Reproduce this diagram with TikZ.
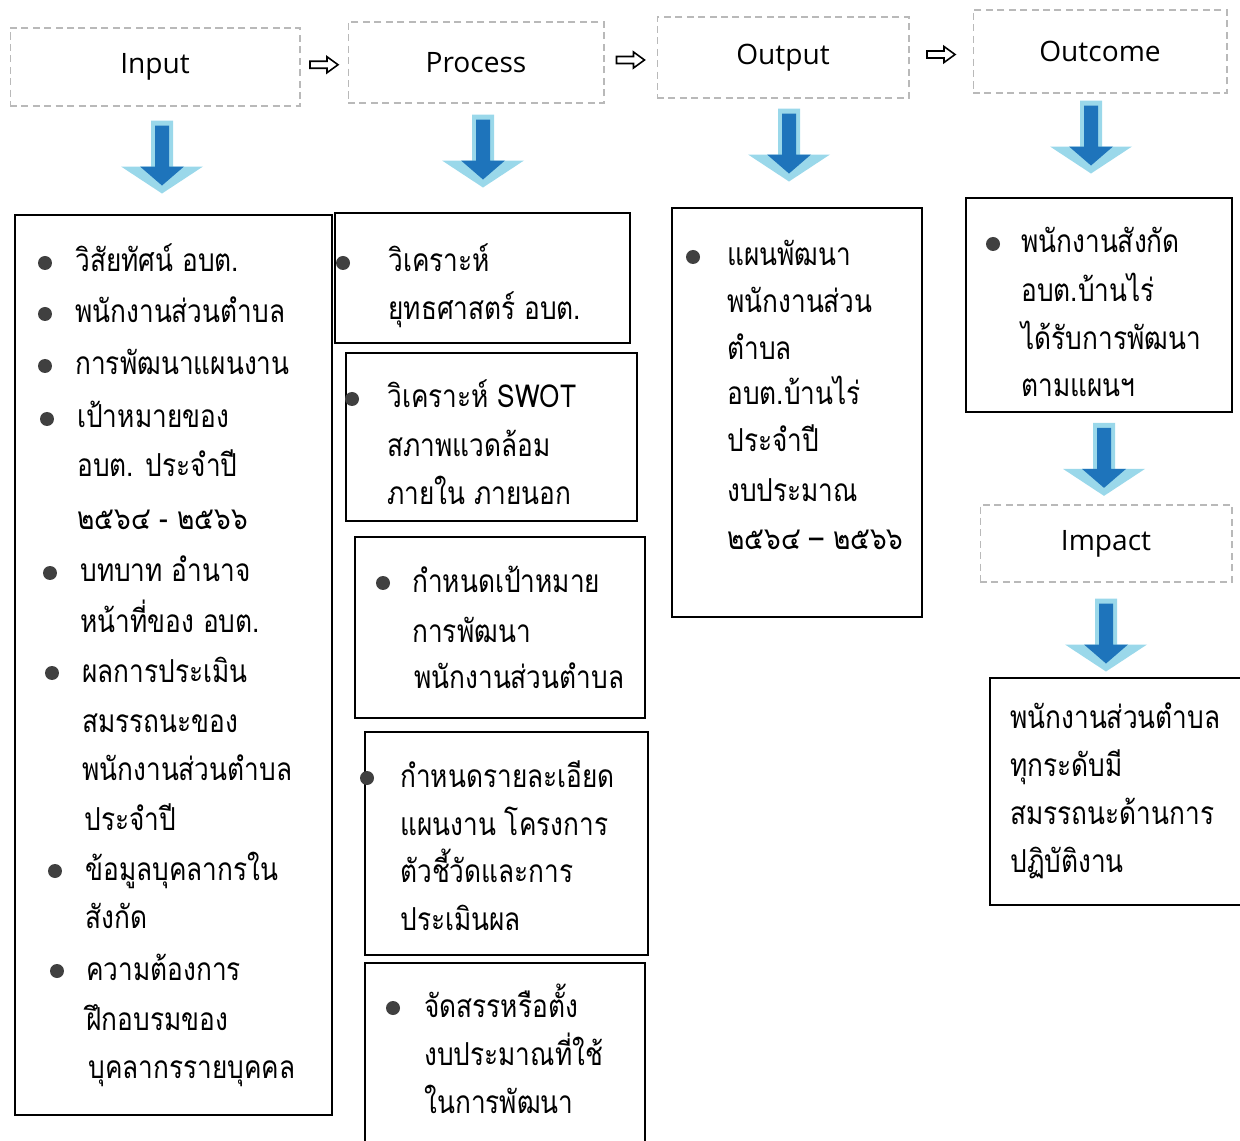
\documentclass[tikz,border=0pt]{standalone}
\usepackage{fontspec}
\newfontfamily\thaifont[Script=Thai, FakeStretch=0.83]{Loma}
\newfontfamily\headfont{Open Sans}
\usetikzlibrary{calc,fit}

\definecolor{arrowlight}{HTML}{9AD8EA}
\definecolor{arrowdark}{HTML}{1E74BB}

\tikzset{
  headbox/.style={draw=gray!55, line width=0.6pt, dash pattern=on 4pt off 2.5pt,
    font=\headfont\fontsize{16}{19}\selectfont},
  listbox/.style={draw=black, line width=1pt, inner sep=0pt},
  thaitext/.style={anchor=base west, inner sep=0pt,
    font=\thaifont\fontsize{18}{21}\selectfont},
  dot/.style={fill=black!75},
  bluearrow/.pic={
    \fill[arrowlight] (-11,0) -- (11,0) -- (11,46) -- (41,46) -- (0,73)
      -- (-41,46) -- (-11,46) -- cycle;
    \fill[arrowdark] (-7,5) -- (7,5) -- (7,46) -- (22,46) -- (0,65)
      -- (-22,46) -- (-7,46) -- cycle;
  },
  hollowarrow/.pic={
    \draw[line width=0.9pt, fill=white] (-14,-3.5) -- (3,-3.5) -- (3,-8) -- (14,0)
      -- (3,8) -- (3,3.5) -- (-14,3.5) -- cycle;
  }
}

\begin{document}
\begin{tikzpicture}[x=0.02cm, y=-0.02cm]
\useasboundingbox (0,0) rectangle (1240,1141);
% หัวข้อ
\node[headbox, minimum width=5.8cm, minimum height=1.56cm] (input) at (155,67) {Input};
\node[headbox, minimum width=5.12cm, minimum height=1.62cm] (process) at (476,62.5) {Process};
\node[headbox, minimum width=5.04cm, minimum height=1.62cm] (output) at (783,57.5) {Output};
\node[headbox, minimum width=5.08cm, minimum height=1.66cm] (outcome) at (1100,51.5) {Outcome};
\node[headbox, minimum width=5.04cm, minimum height=1.54cm] (impact) at (1106,543.5) {Impact};
\pic at ($(input.east)!0.5!(process.west)$) {hollowarrow};
\pic at ($(process.east)!0.5!(output.west)$) {hollowarrow};
\pic at ($(output.east)!0.5!(outcome.west)$) {hollowarrow};
% กรอบ
\node[listbox, fit={(15,215) (332,1115)}] (inlist) {};
\node[listbox, fit={(335,213) (630,343)}] (proc1) {};
\node[listbox, fit={(346,353) (637,521)}] (proc2) {};
\node[listbox, fit={(355,537) (645,718)}] (proc3) {};
\node[listbox, fit={(365,732) (648,955)}] (proc4) {};
\node[listbox, fit={(365,963) (645,1150)}] (proc5) {};
\node[listbox, fit={(672,208) (922,617)}] (outbox) {};
\node[listbox, fit={(966,198) (1232,412)}] (outcomebox) {};
\node[listbox, fit={(990,678) (1250,905)}] (impactbox) {};
% ลูกศร
\pic at ($(input.south)+(7,14)$) {bluearrow};
\pic at ($(process.south)+(7,11)$) {bluearrow};
\pic at ($(output.south)+(6,10)$) {bluearrow};
\pic at ($(outcome.south)+(-9,7)$) {bluearrow};
\pic at ($(outcomebox.south)+(5,10)$) {bluearrow};
\pic at ($(impact.south)+(0,16)$) {bluearrow};
% ข้อความ
\foreach \x/\y/\t in {75/272/วิสัยทัศน์ อบต., 75/323/พนักงานส่วนตำบล,
    75/375/การพัฒนาแผนงาน, 77/428/เป้าหมายของ, 77/477/อบต. ประจำปี,
    77/530/๒๕๖๔ - ๒๕๖๖, 80/582/บทบาท อำนาจ, 80/632/หน้าที่ของ อบต.,
    82/682/ผลการประเมิน, 82/732/สมรรถนะของ, 82/780/พนักงานส่วนตำบล,
    84/830/ประจำปี, 85/880/ข้อมูลบุคลากรใน, 85/928/สังกัด,
    86/980/ความต้องการ, 86/1030/ฝึกอบรมของ, 88/1078/บุคลากรรายบุคคล}
  \node[thaitext] (in-\y) at (\x,\y) {\t};
\foreach \x/\y/\t in {388/272/วิเคราะห์, 388/320/ยุทธศาสตร์ อบต.,
    387/408/วิเคราะห์ SWOT, 387/457/สภาพแวดล้อม, 387/505/ภายใน ภายนอก,
    412/592/กำหนดเป้าหมาย, 412/642/การพัฒนา, 414/688/พนักงานส่วนตำบล,
    400/787/กำหนดรายละเอียด, 400/835/แผนงาน โครงการ, 400/882/ตัวชี้วัดและการ,
    400/930/ประเมินผล, 424/1017/จัดสรรหรือตั้ง, 424/1065/งบประมาณที่ใช้,
    424/1113/ในการพัฒนา}
  \node[thaitext] (pr-\y) at (\x,\y) {\t};
\foreach \x/\y/\t in {727/266/แผนพัฒนา, 727/313/พนักงานส่วน, 727/360/ตำบล,
    727/405/อบต.บ้านไร่, 727/452/ประจำปี, 727/502/งบประมาณ,
    727/550/๒๕๖๔ – ๒๕๖๖}
  \node[thaitext] (op-\y) at (\x,\y) {\t};
\foreach \x/\y/\t in {1021/253/พนักงานสังกัด, 1021/302/อบต.บ้านไร่,
    1021/350/ได้รับการพัฒนา, 1021/397/ตามแผนฯ}
  \node[thaitext] (oc-\y) at (\x,\y) {\t};
\foreach \x/\y/\t in {1010/728/พนักงานส่วนตำบล, 1010/776/ทุกระดับมี,
    1010/824/สมรรถนะด้านการ, 1010/872/ปฏิบัติงาน}
  \node[thaitext] (im-\y) at (\x,\y) {\t};
% จุด
\foreach \x/\y in {45/263, 45/314, 45/366, 47/419, 50/573, 52/673, 55/871,
    57/971, 343/263, 352/399, 383/583, 367/778, 393/1008, 693/257, 993/244}
  \fill[dot] (\x,\y) circle[radius=0.14cm];
\end{tikzpicture}
\end{document}
